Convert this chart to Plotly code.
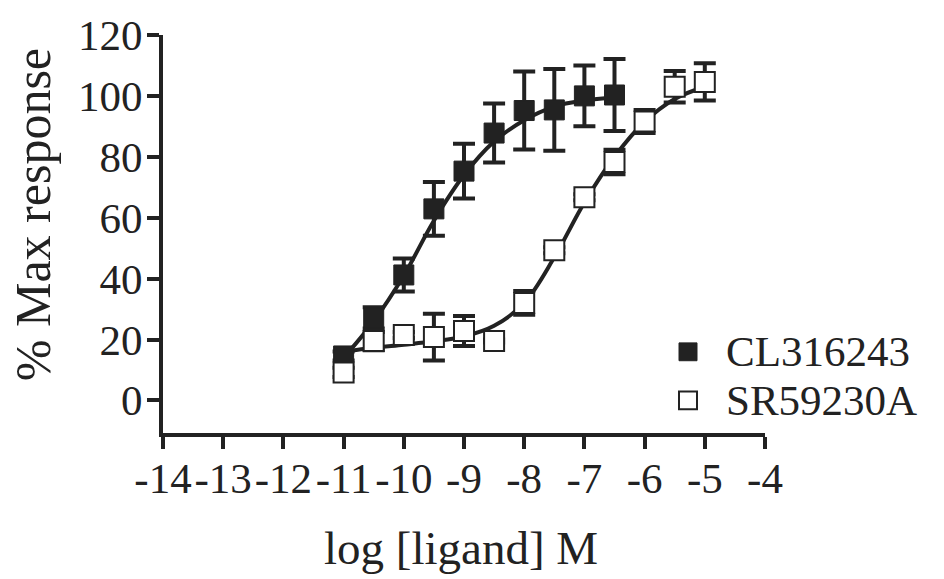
import plotly.graph_objects as go

# ---- data ----
log_conc_cl = [-11, -10.5, -10, -9.5, -9, -8.5, -8, -7.5, -7, -6.5]
resp_cl = [14.6, 27.1, 41.2, 62.9, 75.3, 87.8, 95.2, 95.4, 100.0, 100.3]
err_cl = [1.5, 3.5, 5.4, 8.8, 9.0, 9.7, 12.8, 13.4, 10.0, 11.8]

log_conc_sr = [-11, -10.5, -10, -9.5, -9, -8.5, -8, -7.5, -7, -6.5, -6, -5.5, -5]
resp_sr = [9.2, 19.5, 21.5, 20.8, 22.8, 19.5, 32.0, 49.3, 66.7, 78.3, 91.6, 103.0, 104.6]
err_sr = [1.5, 3.0, 1.0, 7.7, 4.9, 0.5, 3.9, 1.0, 1.0, 4.0, 3.8, 5.2, 6.1]

# fitted curves
fit_x_cl = [-11, -10.5, -10, -9.5, -9, -8.5, -8, -7.5, -7, -6.5]
fit_y_cl = [14, 26, 41, 59, 74, 85, 92, 96.5, 98.5, 99.5]
fit_x_sr = [-11, -10.5, -10, -9.5, -9, -8.5, -8, -7.5, -7, -6.5, -6, -5.5, -5]
fit_y_sr = [16, 17.3, 18.3, 19.4, 21, 24.5, 32, 47, 65, 80, 91.5, 99, 103]

series_names = ["CL316243", "SR59230A"]
x_ticks = [-14, -13, -12, -11, -10, -9, -8, -7, -6, -5, -4]
y_ticks = [0, 20, 40, 60, 80, 100, 120]

INK = "#222222"
FONT = "Liberation Serif"

fig = go.Figure()

fig.add_trace(go.Scatter(x=fit_x_cl, y=fit_y_cl, mode="lines",
                         line=dict(color=INK, width=4, shape="spline", smoothing=1),
                         showlegend=False, hoverinfo="skip"))
fig.add_trace(go.Scatter(x=fit_x_sr, y=fit_y_sr, mode="lines",
                         line=dict(color=INK, width=4, shape="spline", smoothing=1),
                         showlegend=False, hoverinfo="skip"))

fig.add_trace(go.Scatter(x=log_conc_cl, y=resp_cl, mode="markers", name=series_names[0],
                         marker=dict(symbol="square", size=20, color=INK,
                                     line=dict(color=INK, width=1)),
                         error_y=dict(type="data", array=err_cl, color=INK,
                                      thickness=4, width=11),
                         showlegend=False))
fig.add_trace(go.Scatter(x=log_conc_sr, y=resp_sr, mode="markers", name=series_names[1],
                         marker=dict(symbol="square", size=20, color="white",
                                     line=dict(color=INK, width=2)),
                         error_y=dict(type="data", array=err_sr, color=INK,
                                      thickness=4, width=11),
                         showlegend=False))

# plot area geometry (pixels) for paper-coordinate placement
L, R, T, B = 163, 765, 31, 433
W, H = R - L, B - T


def px_x(p):
    return (p - L) / W


def px_y(p):
    return (B - p) / H


# manual legend
legend_rows = [(351, INK, 1), (400, "white", 2)]
shapes = []
annotations = []
for (cy, fill, lw), name in zip(legend_rows, series_names):
    shapes.append(dict(type="rect", xref="paper", yref="paper",
                       x0=px_x(679), x1=px_x(697), y0=px_y(cy + 9), y1=px_y(cy - 9),
                       fillcolor=fill, line=dict(color=INK, width=lw)))
    annotations.append(dict(xref="paper", yref="paper", x=px_x(725), y=px_y(cy),
                            xanchor="left", yanchor="middle", text=name, showarrow=False,
                            borderpad=0,
                            font=dict(family=FONT, size=43, color=INK)))

annotations.append(dict(xref="paper", yref="paper", x=px_x(461), y=px_y(549),
                        xanchor="center", yanchor="middle", text="log [ligand] M",
                        showarrow=False, font=dict(family=FONT, size=47, color=INK)))
annotations.append(dict(xref="paper", yref="paper", x=px_x(33), y=px_y(213),
                        xanchor="center", yanchor="middle", text="% Max response",
                        textangle=-90, showarrow=False,
                        font=dict(family=FONT, size=50, color=INK)))

fig.update_layout(
    width=944, height=579,
    margin=dict(l=L, r=944 - R, t=T, b=579 - B),
    paper_bgcolor="white", plot_bgcolor="white",
    showlegend=False,
    shapes=shapes, annotations=annotations,
    font=dict(family=FONT, color=INK),
)
fig.update_xaxes(range=[-14, -4], tickvals=x_ticks, ticktext=[str(v) for v in x_ticks],
                 tickangle=0, ticklabelstandoff=-8,
                 showgrid=False, zeroline=False, showline=True, linecolor=INK, linewidth=4,
                 ticks="outside", ticklen=12, tickwidth=4, tickcolor=INK,
                 tickfont=dict(family=FONT, size=43, color=INK))
fig.update_yaxes(range=[-10.7, 120], tickvals=y_ticks, ticklabelstandoff=-4,
                 showgrid=False, zeroline=False, showline=True, linecolor=INK, linewidth=4,
                 ticks="outside", ticklen=12, tickwidth=4, tickcolor=INK,
                 tickfont=dict(family=FONT, size=43, color=INK))

fig.write_html("out.html")
